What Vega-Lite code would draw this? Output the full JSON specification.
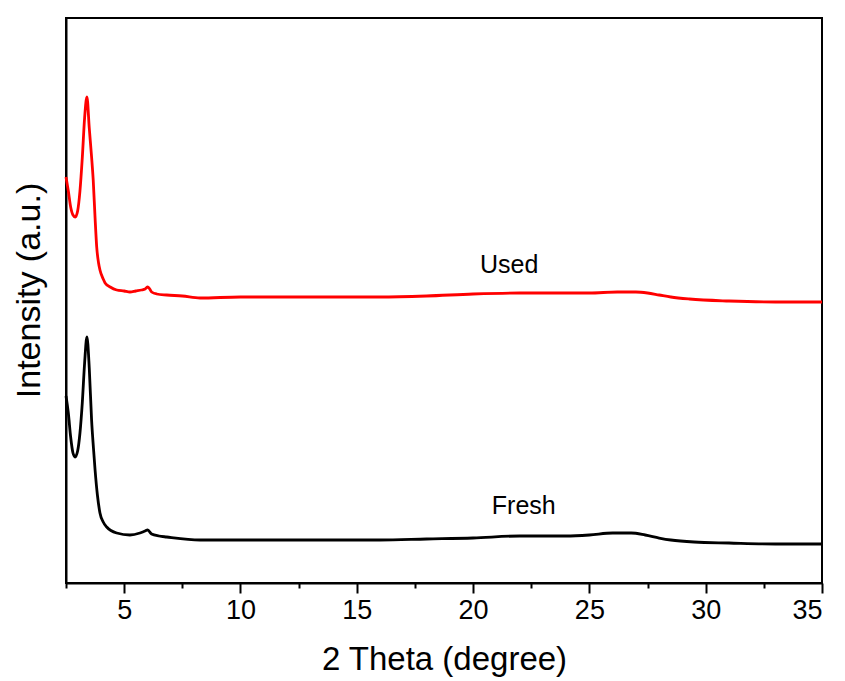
{
  "$schema": "https://vega.github.io/schema/vega-lite/v6.json",
  "width": 756,
  "height": 565,
  "autosize": "none",
  "padding": {"left": 66, "top": 18, "right": 23, "bottom": 98},
  "config": {
    "font": "Liberation Sans",
    "view": {"stroke": "black", "strokeWidth": 2},
    "axis": {"grid": false, "domainColor": "black", "domainWidth": 2, "tickColor": "black", "tickWidth": 2, "labelColor": "black", "titleColor": "black", "titleFontWeight": "normal", "labelFont": "Liberation Sans", "titleFont": "Liberation Sans"}
  },
  "datasets": {
    "xrd": [
      {"theta": 2.5, "intensity": 187, "sample": "Fresh"},
      {"theta": 2.6, "intensity": 170, "sample": "Fresh"},
      {"theta": 2.7, "intensity": 146, "sample": "Fresh"},
      {"theta": 2.8, "intensity": 130, "sample": "Fresh"},
      {"theta": 2.89, "intensity": 126, "sample": "Fresh"},
      {"theta": 3.0, "intensity": 132, "sample": "Fresh"},
      {"theta": 3.1, "intensity": 150, "sample": "Fresh"},
      {"theta": 3.2, "intensity": 180, "sample": "Fresh"},
      {"theta": 3.3, "intensity": 220, "sample": "Fresh"},
      {"theta": 3.4, "intensity": 246, "sample": "Fresh"},
      {"theta": 3.5, "intensity": 215, "sample": "Fresh"},
      {"theta": 3.6, "intensity": 163, "sample": "Fresh"},
      {"theta": 3.68, "intensity": 135, "sample": "Fresh"},
      {"theta": 3.75, "intensity": 113, "sample": "Fresh"},
      {"theta": 3.85, "intensity": 88, "sample": "Fresh"},
      {"theta": 3.96, "intensity": 70, "sample": "Fresh"},
      {"theta": 4.1, "intensity": 61, "sample": "Fresh"},
      {"theta": 4.25, "intensity": 56, "sample": "Fresh"},
      {"theta": 4.68, "intensity": 50, "sample": "Fresh"},
      {"theta": 5.25, "intensity": 48, "sample": "Fresh"},
      {"theta": 5.68, "intensity": 50, "sample": "Fresh"},
      {"theta": 5.9, "intensity": 52, "sample": "Fresh"},
      {"theta": 6.01, "intensity": 53, "sample": "Fresh"},
      {"theta": 6.18, "intensity": 49, "sample": "Fresh"},
      {"theta": 6.5, "intensity": 47, "sample": "Fresh"},
      {"theta": 6.83, "intensity": 46, "sample": "Fresh"},
      {"theta": 8.26, "intensity": 43, "sample": "Fresh"},
      {"theta": 10, "intensity": 43, "sample": "Fresh"},
      {"theta": 12, "intensity": 43, "sample": "Fresh"},
      {"theta": 14, "intensity": 43, "sample": "Fresh"},
      {"theta": 16, "intensity": 43, "sample": "Fresh"},
      {"theta": 18, "intensity": 44, "sample": "Fresh"},
      {"theta": 20, "intensity": 45, "sample": "Fresh"},
      {"theta": 22, "intensity": 47, "sample": "Fresh"},
      {"theta": 24, "intensity": 47, "sample": "Fresh"},
      {"theta": 25, "intensity": 48, "sample": "Fresh"},
      {"theta": 26, "intensity": 50, "sample": "Fresh"},
      {"theta": 26.8, "intensity": 50, "sample": "Fresh"},
      {"theta": 27.4, "intensity": 48, "sample": "Fresh"},
      {"theta": 28, "intensity": 45, "sample": "Fresh"},
      {"theta": 28.5, "intensity": 43, "sample": "Fresh"},
      {"theta": 29.5, "intensity": 41, "sample": "Fresh"},
      {"theta": 31, "intensity": 40, "sample": "Fresh"},
      {"theta": 33, "intensity": 39, "sample": "Fresh"},
      {"theta": 35, "intensity": 39, "sample": "Fresh"},
      {"theta": 2.5, "intensity": 406, "sample": "Used"},
      {"theta": 2.6, "intensity": 392, "sample": "Used"},
      {"theta": 2.7, "intensity": 376, "sample": "Used"},
      {"theta": 2.8, "intensity": 368, "sample": "Used"},
      {"theta": 2.9, "intensity": 366, "sample": "Used"},
      {"theta": 3.0, "intensity": 372, "sample": "Used"},
      {"theta": 3.1, "intensity": 392, "sample": "Used"},
      {"theta": 3.2, "intensity": 425, "sample": "Used"},
      {"theta": 3.3, "intensity": 465, "sample": "Used"},
      {"theta": 3.4, "intensity": 486, "sample": "Used"},
      {"theta": 3.5, "intensity": 455, "sample": "Used"},
      {"theta": 3.6, "intensity": 426, "sample": "Used"},
      {"theta": 3.67, "intensity": 403, "sample": "Used"},
      {"theta": 3.75, "intensity": 365, "sample": "Used"},
      {"theta": 3.82, "intensity": 336, "sample": "Used"},
      {"theta": 3.9, "intensity": 320, "sample": "Used"},
      {"theta": 3.96, "intensity": 313, "sample": "Used"},
      {"theta": 4.1, "intensity": 304, "sample": "Used"},
      {"theta": 4.18, "intensity": 300, "sample": "Used"},
      {"theta": 4.4, "intensity": 296, "sample": "Used"},
      {"theta": 4.68, "intensity": 293, "sample": "Used"},
      {"theta": 5.0, "intensity": 292, "sample": "Used"},
      {"theta": 5.25, "intensity": 291, "sample": "Used"},
      {"theta": 5.5, "intensity": 292, "sample": "Used"},
      {"theta": 5.75, "intensity": 293, "sample": "Used"},
      {"theta": 5.9, "intensity": 294, "sample": "Used"},
      {"theta": 6.0, "intensity": 296, "sample": "Used"},
      {"theta": 6.1, "intensity": 294, "sample": "Used"},
      {"theta": 6.18, "intensity": 291, "sample": "Used"},
      {"theta": 6.4, "intensity": 289, "sample": "Used"},
      {"theta": 6.83, "intensity": 288, "sample": "Used"},
      {"theta": 7.5, "intensity": 287, "sample": "Used"},
      {"theta": 8.26, "intensity": 285, "sample": "Used"},
      {"theta": 10, "intensity": 286, "sample": "Used"},
      {"theta": 12, "intensity": 286, "sample": "Used"},
      {"theta": 14, "intensity": 286, "sample": "Used"},
      {"theta": 16, "intensity": 286, "sample": "Used"},
      {"theta": 18, "intensity": 287, "sample": "Used"},
      {"theta": 20, "intensity": 289, "sample": "Used"},
      {"theta": 22, "intensity": 290, "sample": "Used"},
      {"theta": 24, "intensity": 290, "sample": "Used"},
      {"theta": 25, "intensity": 290, "sample": "Used"},
      {"theta": 26.2, "intensity": 291, "sample": "Used"},
      {"theta": 27, "intensity": 291, "sample": "Used"},
      {"theta": 27.5, "intensity": 290, "sample": "Used"},
      {"theta": 28, "intensity": 288, "sample": "Used"},
      {"theta": 28.5, "intensity": 286, "sample": "Used"},
      {"theta": 29.3, "intensity": 284, "sample": "Used"},
      {"theta": 31, "intensity": 282, "sample": "Used"},
      {"theta": 33, "intensity": 281, "sample": "Used"},
      {"theta": 35, "intensity": 281, "sample": "Used"}
    ],
    "labels": [
      {"theta": 21.55, "intensity": 310, "label": "Used"},
      {"theta": 22.18, "intensity": 69, "label": "Fresh"}
    ]
  },
  "layer": [
    {
      "data": {"name": "xrd"},
      "mark": {"type": "line", "strokeWidth": 2.8, "interpolate": "monotone"},
      "encoding": {
        "x": {"field": "theta", "type": "quantitative", "scale": {"domain": [2.5, 35], "nice": false, "zero": false},
          "axis": {"title": "2 Theta (degree)", "values": [5, 10, 15, 20, 25, 30, 35], "tickSize": 10, "labelFontSize": 27, "labelPadding": 4, "titleFontSize": 33, "titlePadding": 20, "orient": "bottom"}},
        "y": {"field": "intensity", "type": "quantitative", "scale": {"domain": [0, 565], "nice": false},
          "axis": {"title": "Intensity (a.u.)", "labels": false, "ticks": false, "titleFontSize": 34, "titlePadding": 20, "titleY": 272}},
        "color": {"field": "sample", "type": "nominal", "scale": {"domain": ["Fresh", "Used"], "range": ["#000000", "#ff0000"]}, "legend": null},
        "detail": {"field": "sample"}
      }
    },
    {
      "data": {"name": "labels"},
      "mark": {"type": "text", "fontSize": 25, "color": "black", "align": "center", "baseline": "alphabetic"},
      "encoding": {
        "x": {"field": "theta", "type": "quantitative", "scale": {"domain": [2.5, 35], "nice": false, "zero": false},
          "axis": {"title": null, "values": [2.5, 7.5, 12.5, 17.5, 22.5, 27.5, 32.5], "labels": false, "tickSize": 5, "domain": false, "orient": "bottom"}},
        "y": {"field": "intensity", "type": "quantitative", "scale": {"domain": [0, 565], "nice": false}, "axis": null},
        "text": {"field": "label"}
      }
    }
  ],
  "resolve": {"axis": {"x": "independent", "y": "independent"}}
}
